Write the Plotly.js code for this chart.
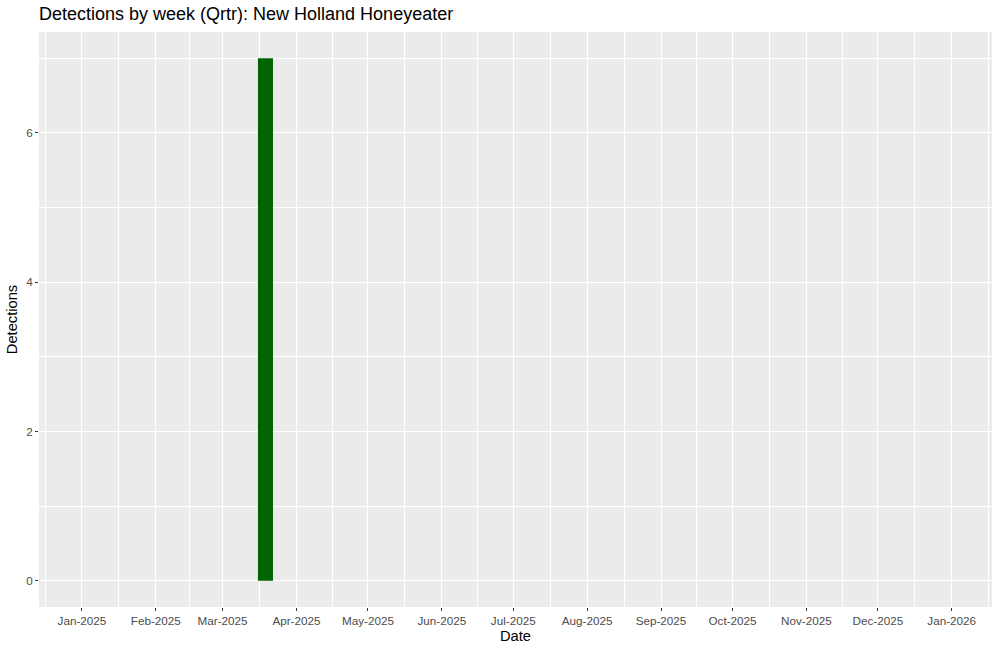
<!DOCTYPE html>
<html>
<head>
<meta charset="utf-8">
<script src="https://cdn.plot.ly/plotly-3.0.1.min.js"></script>
<style>html,body{margin:0;padding:0;background:#fff;}#chart{width:1000px;height:651px;}</style>
</head>
<body>
<div id="chart"></div>
<script>
// Data
const weekDates = ['2025-03-19'];
const detections = [7];
const monthStarts = ['2024-12-01','2025-01-01','2025-02-01','2025-03-01','2025-04-01','2025-05-01','2025-06-01','2025-07-01','2025-08-01','2025-09-01','2025-10-01','2025-11-01','2025-12-01','2026-01-01','2026-02-01'];
const monthLabels = ['Jan-2025','Feb-2025','Mar-2025','Apr-2025','May-2025','Jun-2025','Jul-2025','Aug-2025','Sep-2025','Oct-2025','Nov-2025','Dec-2025','Jan-2026'];
const yMajor = [0, 2, 4, 6];
const yMinor = [1, 3, 5, 7];

const majorX = monthStarts.slice(1, 14);
const minorX = [];
for (let i = 0; i < monthStarts.length - 1; i++) {
  const a = new Date(monthStarts[i] + 'T00:00:00Z').getTime();
  const b = new Date(monthStarts[i+1] + 'T00:00:00Z').getTime();
  minorX.push(new Date((a + b) / 2).toISOString().replace('Z',''));
}

const DAY = 86400000;
const font = 'Liberation Sans, Arial, sans-serif';

Plotly.newPlot('chart', [{
  type: 'bar',
  x: weekDates,
  y: detections,
  width: weekDates.map(() => 6.3 * DAY),
  marker: {color: '#006400', line: {width: 0}},
  hoverinfo: 'x+y'
}], {
  width: 1000, height: 651,
  margin: {l: 39, r: 8, t: 32, b: 44},
  paper_bgcolor: '#ffffff',
  plot_bgcolor: '#EBEBEB',
  showlegend: false,
  font: {family: font, color: '#000'},
  title: {text: 'Detections by week (Qrtr): New Holland Honeyeater', font: {size: 18, color: '#000', family: font}, x: 39/1000, xanchor: 'left', xref: 'container', y: 1 - 14/651, yanchor: 'middle', yref: 'container'},
  xaxis: {
    type: 'date',
    range: ['2024-12-13T23:00:00', '2026-01-17T22:00:00'],
    tickmode: 'array', tickvals: majorX, ticktext: monthLabels,
    ticks: 'outside', ticklen: 3, tickwidth: 1, tickcolor: '#333333',
    tickfont: {size: 11.7, color: '#4D4D4D', family: font},
    showgrid: true, gridcolor: '#FFFFFF', gridwidth: 1.3,
    minor: {tickmode: 'array', tickvals: minorX, showgrid: true, gridcolor: '#FFFFFF', gridwidth: 0.6, ticklen: 0},
    zeroline: false, showline: false, fixedrange: true,
    title: {text: 'Date', font: {size: 14.7, color: '#000', family: font}, standoff: 4},
    automargin: false
  },
  yaxis: {
    range: [-0.35, 7.35],
    tickmode: 'array', tickvals: yMajor,
    ticks: 'outside', ticklen: 3, tickwidth: 1, tickcolor: '#333333',
    tickfont: {size: 11.7, color: '#4D4D4D', family: font},
    showgrid: true, gridcolor: '#FFFFFF', gridwidth: 1.3,
    minor: {tickmode: 'array', tickvals: yMinor, showgrid: true, gridcolor: '#FFFFFF', gridwidth: 0.6, ticklen: 0},
    zeroline: false, showline: false, fixedrange: true,
    title: {text: 'Detections', font: {size: 14.7, color: '#000', family: font}, standoff: 4},
    automargin: false
  }
}, {displayModeBar: false, staticPlot: false});
</script>
</body>
</html>
